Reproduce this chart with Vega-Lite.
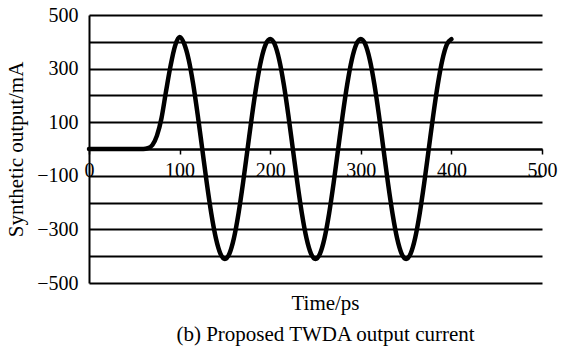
{
  "$schema": "https://vega.github.io/schema/vega-lite/v6.json",
  "width": 453,
  "height": 268,
  "autosize": {"type": "none"},
  "padding": {"left": 89, "top": 15, "right": 20, "bottom": 69},
  "background": "white",
  "config": {"view": {"stroke": null}, "font": "Liberation Serif"},
  "data": {"values": [
    {"t": 0, "v": 0}, {"t": 20, "v": 0}, {"t": 40, "v": 0}, {"t": 55, "v": 0}, {"t": 60, "v": 0},
    {"t": 65, "v": 3}, {"t": 70, "v": 15}, {"t": 75, "v": 50}, {"t": 80, "v": 115}, {"t": 85, "v": 215},
    {"t": 90, "v": 310}, {"t": 95, "v": 385}, {"t": 100, "v": 418}, {"t": 105, "v": 393}, {"t": 110, "v": 334},
    {"t": 115, "v": 242}, {"t": 120, "v": 127}, {"t": 125, "v": 0}, {"t": 130, "v": -127}, {"t": 135, "v": -241},
    {"t": 140, "v": -332}, {"t": 145, "v": -390}, {"t": 150, "v": -410}, {"t": 155, "v": -390}, {"t": 160, "v": -332},
    {"t": 165, "v": -241}, {"t": 170, "v": -127}, {"t": 175, "v": 0}, {"t": 180, "v": 127}, {"t": 185, "v": 241},
    {"t": 190, "v": 332}, {"t": 195, "v": 390}, {"t": 200, "v": 410}, {"t": 205, "v": 390}, {"t": 210, "v": 332},
    {"t": 215, "v": 241}, {"t": 220, "v": 127}, {"t": 225, "v": 0}, {"t": 230, "v": -127}, {"t": 235, "v": -241},
    {"t": 240, "v": -332}, {"t": 245, "v": -390}, {"t": 250, "v": -410}, {"t": 255, "v": -390}, {"t": 260, "v": -332},
    {"t": 265, "v": -241}, {"t": 270, "v": -127}, {"t": 275, "v": 0}, {"t": 280, "v": 127}, {"t": 285, "v": 241},
    {"t": 290, "v": 332}, {"t": 295, "v": 390}, {"t": 300, "v": 410}, {"t": 305, "v": 390}, {"t": 310, "v": 332},
    {"t": 315, "v": 241}, {"t": 320, "v": 127}, {"t": 325, "v": 0}, {"t": 330, "v": -127}, {"t": 335, "v": -241},
    {"t": 340, "v": -332}, {"t": 345, "v": -390}, {"t": 350, "v": -410}, {"t": 355, "v": -390}, {"t": 360, "v": -332},
    {"t": 365, "v": -241}, {"t": 370, "v": -127}, {"t": 375, "v": 0}, {"t": 380, "v": 127}, {"t": 385, "v": 241},
    {"t": 390, "v": 332}, {"t": 395, "v": 390}, {"t": 400, "v": 410}
  ]},
  "mark": {"type": "line", "color": "black", "strokeWidth": 4.5, "interpolate": "monotone", "strokeCap": "round", "strokeJoin": "round"},
  "encoding": {
    "x": {
      "field": "t", "type": "quantitative",
      "scale": {"domain": [0, 500], "nice": false},
      "axis": {
        "title": ["Time/ps", "(b) Proposed TWDA output current"],
        "values": [0, 100, 200, 300, 400, 500],
        "offset": -134,
        "grid": false,
        "domainColor": "black", "domainWidth": 2,
        "tickColor": "black", "tickSize": 5, "tickWidth": 1.5,
        "labelFont": "Liberation Serif", "labelFontSize": 20, "labelColor": "black",
        "labelPadding": 6, "labelFlush": false, "labelOverlap": false,
        "titleFont": "Liberation Serif", "titleFontSize": 21, "titleFontWeight": "normal", "titleColor": "black",
        "titleLineHeight": 31, "titleX": 236, "titleY": 160, "titleBaseline": "alphabetic", "titleAlign": "center"
      }
    },
    "y": {
      "field": "v", "type": "quantitative",
      "scale": {"domain": [-500, 500], "nice": false},
      "axis": {
        "title": "Synthetic output/mA",
        "values": [-500, -400, -300, -200, -100, 0, 100, 200, 300, 400, 500],
        "labelExpr": "datum.value % 200 != 0 ? datum.label : ''",
        "grid": true, "gridColor": "black", "gridWidth": 2, "gridOpacity": 1,
        "domainColor": "black", "domainWidth": 2,
        "ticks": false,
        "labelPadding": 11,
        "labelFont": "Liberation Serif", "labelFontSize": 20, "labelColor": "black",
        "labelOverlap": false,
        "titleFont": "Liberation Serif", "titleFontSize": 21, "titleFontWeight": "normal", "titleColor": "black",
        "titlePadding": 10
      }
    }
  }
}
